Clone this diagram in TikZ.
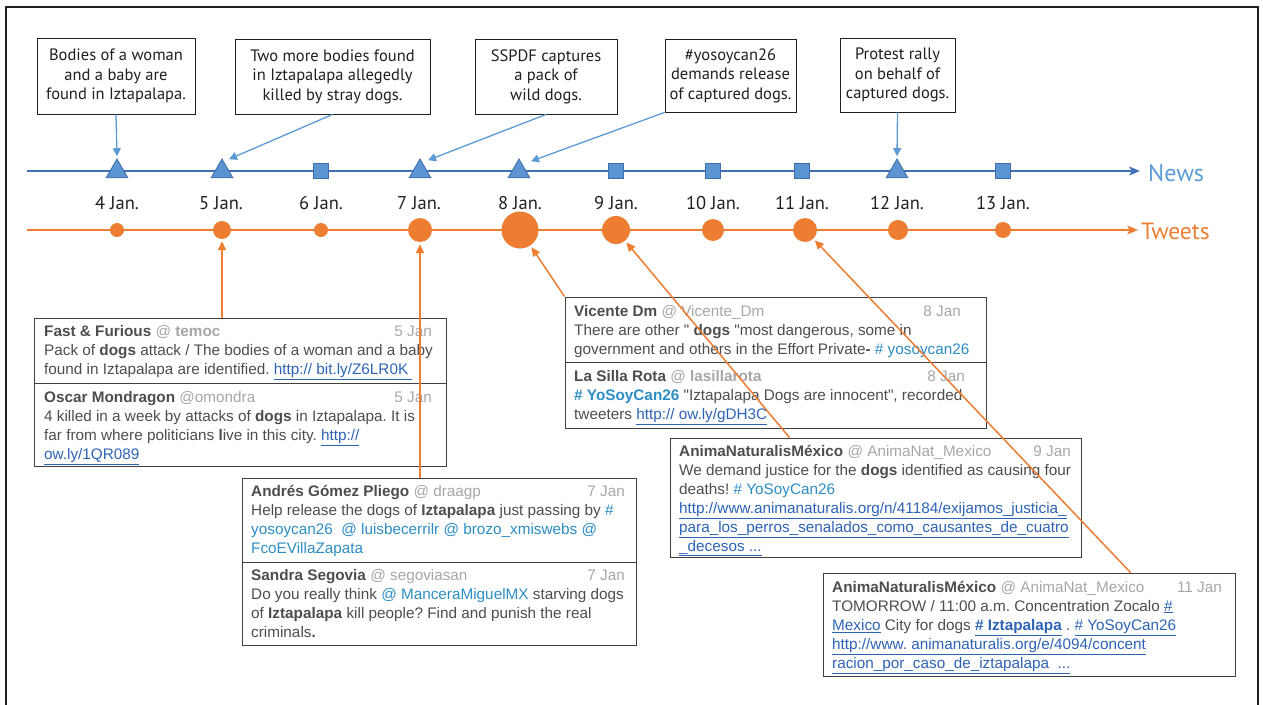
\documentclass[tikz,border=0pt]{standalone}
\usepackage{fontspec}
\usetikzlibrary{arrows.meta,shapes.geometric,calc}
\newfontfamily\myr{PT Sans}
\newfontfamily\tw{Liberation Sans}
\frenchspacing
\definecolor{frame}{HTML}{231F20}
\definecolor{newsline}{HTML}{3F6FB5}
\definecolor{newsfill}{HTML}{5B94D0}
\definecolor{newsdraw}{HTML}{3C6DAE}
\definecolor{callblue}{HTML}{5B9BD5}
\definecolor{tweetc}{HTML}{ED7D31}
\definecolor{bodyc}{HTML}{4D4D4D}
\definecolor{handlec}{HTML}{A6A6A6}
\definecolor{htagc}{HTML}{2C8DC5}
\definecolor{linkc}{HTML}{2D63B5}
\newcommand\nm[1]{\rule{0pt}{14pt}\textbf{#1}}
\newcommand\hd[1]{{\color{handlec}#1}}
\newcommand\htg[1]{{\color{htagc}#1}}
\newcommand\ulnk[1]{{\color{linkc}\underline{#1}}}
\begin{document}
\begin{tikzpicture}[x=1pt,y=-1pt,
  callout/.style={draw=frame, line width=0.9pt, fill=white, font=\myr\fontsize{16.5}{19.5}\selectfont, align=center, text=frame, inner sep=0pt},
  tri/.style={regular polygon, regular polygon sides=3, minimum size=25pt, inner sep=0pt, fill=newsfill, draw=newsdraw, line width=0.8pt},
  sq/.style={rectangle, minimum size=15pt, inner sep=0pt, fill=newsfill, draw=newsdraw, line width=0.8pt},
  tdot/.style={circle, fill=tweetc, inner sep=0pt, minimum size=#1},
  ddate/.style={font=\myr\fontsize{18.5}{20}\selectfont, text=frame, inner sep=0pt},
  tbox/.style={draw=black!75, line width=0.9pt, inner sep=0pt},
  ttext/.style={font=\tw\fontsize{15.3}{19}\selectfont\frenchspacing, text=bodyc, align=left, inner sep=0pt, anchor=north west},
  tdate/.style={font=\tw\fontsize{15.3}{19}\selectfont, text=handlec, inner sep=0pt, anchor=base east},
  newsarrow/.style={draw=callblue, line width=1.3pt, -{Triangle[length=8pt,width=8pt]}},
  tweetarrow/.style={draw=tweetc, line width=1.5pt, -{Triangle[length=9pt,width=8pt]}, shorten >=2pt}
]
\useasboundingbox (0,0) rectangle (1263,704);
\draw[frame, line width=2.4pt] (6,740) -- (6,7) -- (1258,7) -- (1258,740);

% timelines
\coordinate (ns) at (27,171);
\coordinate (ne) at (1140,171);
\coordinate (ts) at (27,230);
\coordinate (te) at (1138,230);
\draw[newsline, line width=1.6pt, -{Stealth[length=11pt,width=9pt,inset=3pt]}] (ns) -- (ne);
\draw[tweetc, line width=1.6pt, -{Stealth[length=11pt,width=9pt,inset=3pt]}] (ts) -- (te);
\node[anchor=west, inner sep=0pt, text=callblue, font=\myr\fontsize{24}{26}\selectfont] (newslbl) at (1148,173) {News};
\node[anchor=west, inner sep=0pt, text=tweetc, font=\myr\fontsize{23.5}{26}\selectfont] (tweetlbl) at (1141,231) {Tweets};

% news markers
\node[tri] (n4) at (117,171.5) {};
\node[tri] (n5) at (222,171.5) {};
\node[sq] (n6) at (321,171) {};
\node[tri] (n7) at (420,171.5) {};
\node[tri] (n8) at (519,171.5) {};
\node[sq] (n9) at (616,171) {};
\node[sq] (n10) at (713,171) {};
\node[sq] (n11) at (802,171) {};
\node[tri] (n12) at (897,171.5) {};
\node[sq] (n13) at (1003,171) {};

% dates
\node[ddate] (d4) at (117,203) {4 Jan.};
\node[ddate] (d5) at (221,203) {5 Jan.};
\node[ddate] (d6) at (321,203) {6 Jan.};
\node[ddate] (d7) at (419,203) {7 Jan.};
\node[ddate] (d8) at (520,203) {8 Jan.};
\node[ddate] (d9) at (616,203) {9 Jan.};
\node[ddate] (d10) at (713,203) {10 Jan.};
\node[ddate] (d11) at (802,203) {11 Jan.};
\node[ddate] (d12) at (897,203) {12 Jan.};
\node[ddate] (d13) at (1003,203) {13 Jan.};

% tweet dots
\node[tdot=14pt] (c4) at (117,230) {};
\node[tdot=18pt] (c5) at (222,230) {};
\node[tdot=14pt] (c6) at (321,230) {};
\node[tdot=24pt] (c7) at (420,230) {};
\node[tdot=37pt] (c8) at (520,230) {};
\node[tdot=28pt] (c9) at (616,230) {};
\node[tdot=22pt] (c10) at (713,230) {};
\node[tdot=24pt] (c11) at (805,230) {};
\node[tdot=20pt] (c12) at (898,230) {};
\node[tdot=16pt] (c13) at (1003,230) {};

% callouts
\node[callout, minimum width=158pt, minimum height=76pt] (k1) at (116,76) {Bodies of a woman\\and a baby are\\found in Iztapalapa.};
\node[callout, minimum width=195pt, minimum height=75pt] (k2) at (332.5,76.5) {Two more bodies found\\in Iztapalapa allegedly\\killed by stray dogs.};
\node[callout, minimum width=142pt, minimum height=75pt] (k3) at (546,76.5) {SSPDF captures\\a pack of\\wild dogs.};
\node[callout, minimum width=131pt, minimum height=73pt] (k4) at (730.5,75.5) {\#yosoycan26\\demands release\\of captured dogs.};
\node[callout, minimum width=115pt, minimum height=74pt] (k5) at (897.5,75) {Protest rally\\on behalf of\\captured dogs.};

\draw[newsarrow] (k1.south) -- ([yshift=2pt]n4.north);
\draw[newsarrow] (k2.south) -- ([xshift=7pt,yshift=-1pt]n5.north);
\draw[newsarrow] (k3.south) -- ([xshift=8pt,yshift=-2pt]n7.north);
\draw[newsarrow] (k4.south west) -- ([xshift=12pt,yshift=-3pt]n8.north);
\draw[newsarrow] (k5.south) -- ([yshift=2pt]n12.north);

% tweet boxes
\node[tbox, minimum width=412pt, minimum height=65pt] (ta1) at (240,350.5) {};
\node[tbox, minimum width=412pt, minimum height=83pt] (ta2) at (240,424.5) {};
\node[tbox, minimum width=394pt, minimum height=84pt] (tb1) at (439,520) {};
\node[tbox, minimum width=394pt, minimum height=83pt] (tb2) at (439,603.5) {};
\node[tbox, minimum width=421pt, minimum height=65pt] (tc1) at (775.5,329.5) {};
\node[tbox, minimum width=421pt, minimum height=66pt] (tc2) at (775.5,395) {};
\node[tbox, minimum width=411pt, minimum height=119pt] (td) at (875.5,497.5) {};
\node[tbox, minimum width=412pt, minimum height=103pt] (te1) at (1029,624.5) {};

% tweet texts (first baseline = y + 14)
\node[ttext] (xa1) at (44,322) {\nm{Fast \& Furious} \hd{@ \textbf{temoc}}\\Pack of \textbf{dogs} attack / The bodies of a woman and a baby\\found in Iztapalapa are identified. \ulnk{http:// bit.ly/Z6LR0K\ }};
\node[tdate] (ya1) at (432,336) {5 Jan};
\node[ttext] (xa2) at (44,388) {\nm{Oscar Mondragon} \hd{@omondra}\\4 killed in a week by attacks of \textbf{dogs} in Iztapalapa. It is\\far from where politicians \textbf{l}ive in this city. \ulnk{http://}\\\ulnk{ow.ly/1QR089}};
\node[tdate] (ya2) at (432,402) {5 Jan};
\node[ttext] (xb1) at (251,482) {\nm{Andrés Gómez Pliego} \hd{@ draagp}\\Help release the dogs of \textbf{Iztapalapa} just passing by \htg{\#}\\\htg{yosoycan26 \ @ luisbecerrilr @ brozo\_xmiswebs @}\\\htg{FcoEVillaZapata}};
\node[tdate] (yb1) at (625,496) {7 Jan};
\node[ttext] (xb2) at (251,566) {\nm{Sandra Segovia} \hd{@ segoviasan}\\Do you really think \htg{@ ManceraMiguelMX} starving dogs\\of \textbf{Iztapalapa} kill people? Find and punish the real\\criminals\textbf{.}};
\node[tdate] (yb2) at (625,580) {7 Jan};
\node[ttext] (xc1) at (574,302) {\nm{Vicente Dm} \hd{@ Vicente\_Dm}\\There are other " \textbf{dogs} "most dangerous, some in\\government and others in the Effort Private\textbf{-} \htg{\# yosoycan26}};
\node[tdate] (yc1) at (961,316) {8 Jan};
\node[ttext] (xc2) at (574,367) {\nm{La Silla Rota} \hd{@ \textbf{lasillarota}}\\\htg{\textbf{\# YoSoyCan26}} "Iztapalapa Dogs are innocent", recorded\\tweeters \ulnk{http:// ow.ly/gDH3C}};
\node[tdate] (yc2) at (965,381) {8 Jan};
\node[ttext] (xd) at (679,442) {\nm{AnimaNaturalisMéxico} \hd{@ AnimaNat\_Mexico}\\We demand justice for the \textbf{dogs} identified as causing four\\deaths! \htg{\# YoSoyCan26}\\\ulnk{http://www.animanaturalis.org/n/41184/exijamos\_justicia\_}\\\ulnk{para\_los\_perros\_senalados\_como\_causantes\_de\_cuatro}\\\ulnk{\_decesos ...}};
\node[tdate] (yd) at (1071,456) {9 Jan};
\node[ttext] (xe) at (832,578) {\nm{AnimaNaturalisMéxico} \hd{@ AnimaNat\_Mexico}\\TOMORROW / 11:00 a.m. Concentration Zocalo \ulnk{\#}\\\ulnk{Mexico} City for dogs \ulnk{\textbf{\# Iztapalapa}} . \ulnk{\# YoSoyCan26}\\\ulnk{http://www. animanaturalis.org/e/4094/concent}\\\ulnk{racion\_por\_caso\_de\_iztapalapa \ ...}};
\node[tdate] (ye) at (1222,592) {11 Jan};

% tweet arrows
\draw[tweetarrow] (c5 |- ta1.north) -- (c5);
\draw[tweetarrow] (c7 |- tb1.north) -- (c7);
\draw[tweetarrow] (tc1.north west) -- (c8);
\draw[tweetarrow] ([xshift=120pt]td.north west) -- (c9);
\draw[tweetarrow] ([xshift=308pt]te1.north west) -- (c11);
\end{tikzpicture}
\end{document}
